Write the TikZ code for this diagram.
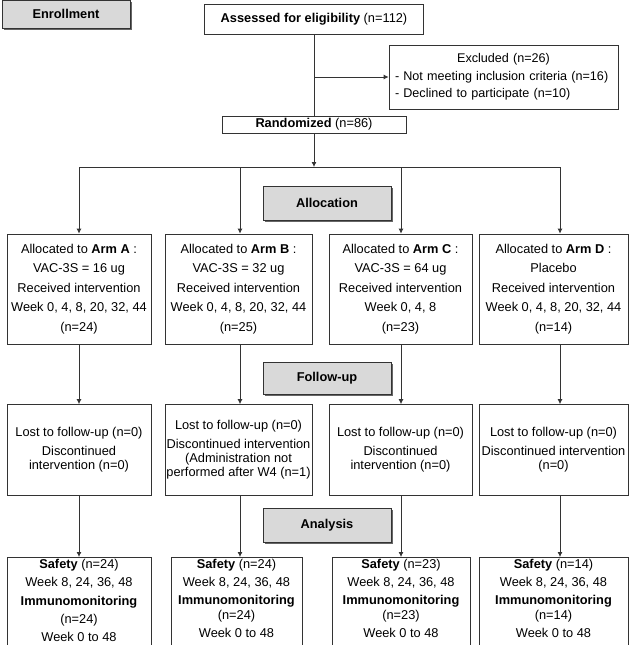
\documentclass[tikz,border=0pt]{standalone}
\usepackage{fontspec}
\setmainfont{Liberation Sans}
\usetikzlibrary{arrows.meta, positioning, shadows}
\definecolor{stageG}{HTML}{D9D9D9}
\definecolor{lineG}{HTML}{333333}

\begin{document}
\fontsize{12.8}{15}\selectfont
\begin{tikzpicture}[x = 1pt, y = -1pt,
    box/.style = {draw = lineG, line width = 0.8pt, inner sep = 1pt, align = center},
    stage/.style = {box, fill = stageG, font = \bfseries, minimum width = 128pt,
      drop shadow = {shadow xshift = 1.6pt, shadow yshift = -1.6pt, opacity = 1, fill = black!60}},
    armbox/.style = {box, minimum height = 110pt, font = \fontsize{12.8}{19.5}\selectfont},
    lostbox/.style = {box, minimum height = 91pt, font = \fontsize{12.8}{14}\selectfont},
    anabox/.style = {box, anchor = north, inner ysep = 2pt, text depth = 14pt,
      font = \fontsize{12.8}{15}\selectfont},
    link/.style = {draw = lineG, line width = 0.8pt},
    arr/.style = {link, -{Latex[length = 5pt, width = 5pt]}}]
  \def\laneY{167}

  \useasboundingbox (0, 0) rectangle (636, 645);

  % ------------------------
  % enrollment
  % ------------------------

  \node[stage, minimum height = 28pt] (enroll) at (66, 14) {Enrollment};
  \node[box, minimum width = 219pt, minimum height = 30pt] (assessed) at (314, 19)
    {\textbf{Assessed for eligibility} (n=112)};
  \node[box, text width = 217pt, inner xsep = 6pt, minimum height = 64pt, align = left,
    font = \fontsize{12.6}{17.5}\selectfont] (excluded) at (503.5, 77)
    {\makebox[\hsize]{Excluded (n=26)}\\- Not meeting inclusion criteria (n=16)\\- Declined to participate (n=10)};
  \node[box, minimum width = 184pt, minimum height = 17pt] (random) at (314, 124.5)
    {\textbf{Randomized} (n=86)};

  \draw[link] (assessed.south) -- (random.north);
  \draw[arr] (assessed.south |- excluded.west) -- (excluded.west);

  % ------------------------
  % allocation
  % ------------------------

  \coordinate (split) at (314, \laneY);
  \coordinate (laneA) at (79, \laneY);
  \coordinate (laneB) at (240, \laneY);
  \coordinate (laneC) at (401, \laneY);
  \coordinate (laneD) at (560, \laneY);

  \draw[arr] (random.south) -- (split);
  \draw[link] (laneA) -- (laneD);

  \node[stage, minimum height = 34pt] (alloc) at (327, 203) {Allocation};

  \node[armbox, minimum width = 144pt] (armA) at (79, 289)
    {Allocated to \textbf{Arm A} :\\VAC-3S = 16 ug\\Received intervention\\Week 0, 4, 8, 20, 32, 44\\(n=24)};
  \node[armbox, minimum width = 147pt] (armB) at (238.5, 289)
    {Allocated to \textbf{Arm B} :\\VAC-3S = 32 ug\\Received intervention\\Week 0, 4, 8, 20, 32, 44\\(n=25)};
  \node[armbox, minimum width = 143pt] (armC) at (400.5, 289)
    {Allocated to \textbf{Arm C} :\\VAC-3S = 64 ug\\Received intervention\\Week 0, 4, 8\\(n=23)};
  \node[armbox, minimum width = 149pt] (armD) at (553.5, 289)
    {Allocated to \textbf{Arm D} :\\Placebo\\Received intervention\\Week 0, 4, 8, 20, 32, 44\\(n=14)};

  % ------------------------
  % follow-up
  % ------------------------

  \node[stage, minimum height = 32pt] (follow) at (327, 378) {Follow-up};

  \node[lostbox, minimum width = 144pt] (lostA) at (79, 450)
    {Lost to follow-up (n=0)\\[5pt]Discontinued\\intervention (n=0)};
  \node[lostbox, minimum width = 147pt] (lostB) at (238.5, 450)
    {Lost to follow-up (n=0)\\[5pt]Discontinued intervention\\(Administration not\\performed after W4 (n=1)};
  \node[lostbox, minimum width = 143pt] (lostC) at (400.5, 450)
    {Lost to follow-up (n=0)\\[5pt]Discontinued\\intervention (n=0)};
  \node[lostbox, minimum width = 149pt] (lostD) at (553.5, 450)
    {Lost to follow-up (n=0)\\[5pt]Discontinued intervention\\(n=0)};

  % ------------------------
  % analysis
  % ------------------------

  \node[stage, minimum height = 34pt] (analysis) at (327, 525) {Analysis};

  \node[anabox, minimum width = 144pt] (anaA) at (79, 557)
    {\textbf{Safety} (n=24)\\[3pt]Week 8, 24, 36, 48\\[3.5pt]\textbf{Immunomonitoring}\\[3.5pt](n=24)\\[3pt]Week 0 to 48};
  \node[anabox, minimum width = 131pt] (anaB) at (236.5, 557)
    {\textbf{Safety} (n=24)\\[3pt]Week 8, 24, 36, 48\\[3pt]\textbf{Immunomonitoring}\\(n=24)\\[3pt]Week 0 to 48};
  \node[anabox, minimum width = 138pt] (anaC) at (401, 557)
    {\textbf{Safety} (n=23)\\[3pt]Week 8, 24, 36, 48\\[3pt]\textbf{Immunomonitoring}\\(n=23)\\[3pt]Week 0 to 48};
  \node[anabox, minimum width = 149pt] (anaD) at (553.5, 557)
    {\textbf{Safety} (n=14)\\[3pt]Week 8, 24, 36, 48\\[3pt]\textbf{Immunomonitoring}\\(n=14)\\[3pt]Week 0 to 48};

  \foreach \arm in {A, B, C, D} {
    \draw[arr] (lane\arm) -- (lane\arm |- arm\arm.north);
    \draw[arr] (lane\arm |- arm\arm.south) -- (lane\arm |- lost\arm.north);
    \draw[arr] (lane\arm |- lost\arm.south) -- (lane\arm |- ana\arm.north);
  }
\end{tikzpicture}
\end{document}
